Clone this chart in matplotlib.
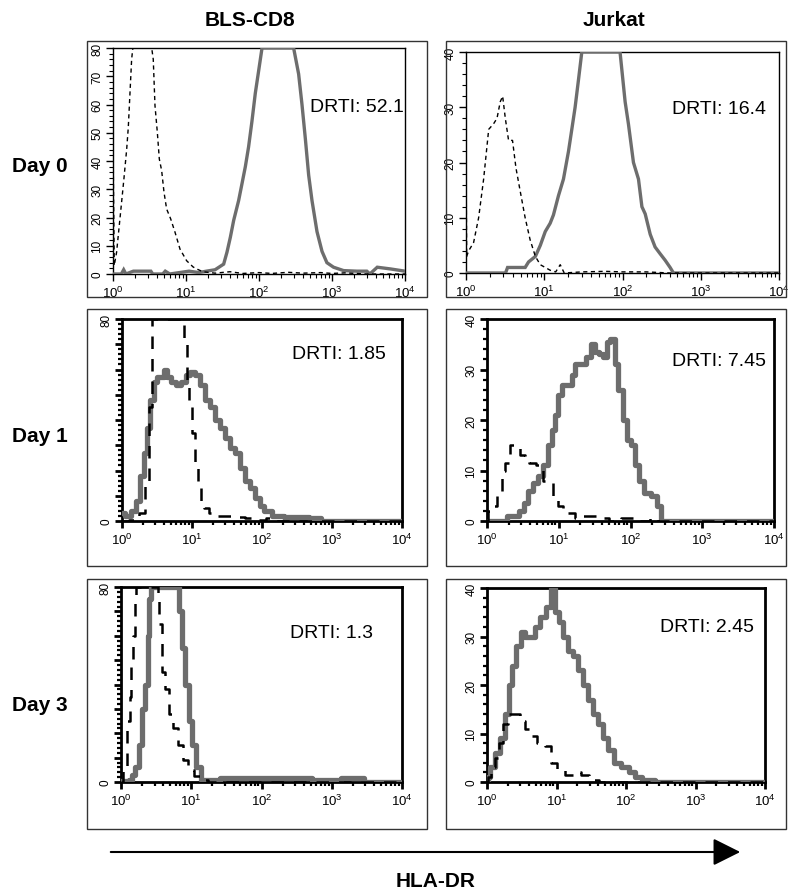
import matplotlib
matplotlib.use("Agg")
import matplotlib.pyplot as plt
from matplotlib.patches import Rectangle, FancyArrowPatch
from matplotlib.ticker import LogLocator, NullFormatter, FixedLocator, MultipleLocator, FixedFormatter

plt.rcParams['font.family'] = ['Liberation Sans', 'DejaVu Sans']
plt.rcParams['mathtext.default'] = 'regular'

# ---------------- data ----------------
col_titles = ["BLS-CD8", "Jurkat"]
row_titles = ["Day 0", "Day 1", "Day 3"]
drti_values = ["52.1", "16.4", "1.85", "7.45", "1.3", "2.45"]
x_axis_label = "HLA-DR"

# Day 0, BLS-CD8
d0_bls_iso_x = [1.0, 1.04, 1.12, 1.27, 1.41, 1.54, 1.62, 1.80, 1.87, 2.5, 3.39, 3.56, 3.76, 4.05, 4.31,
                4.64, 5.0, 5.43, 6.17, 7.07, 8.28, 10.2, 12.5, 14.0, 17, 25, 40, 60, 100, 150, 250, 400,
                700, 1000, 1500, 3000, 10000]
d0_bls_iso_y = [48, 3, 7.7, 21.8, 33.6, 44.2, 51.9, 76, 80, 80, 80, 76, 59.6, 50.1, 40.7,
                36.6, 28.9, 23, 19.5, 14.8, 8.8, 4.7, 2.5, 1.8, 0.8, 0.3, 0.8, 0.2, 0.5, 0.2, 0.6, 0.3,
                0.5, 0.2, 0.4, 0, 0]
d0_bls_dr_x = [1.0, 1.3, 1.4, 1.5, 1.9, 3.3, 3.5, 4.8, 5.2, 6, 11, 15, 19, 25, 32.8, 36.4, 40.5, 45,
               52.6, 58.5, 65, 72, 80, 89, 99, 110, 200, 298, 349, 388, 431, 479, 532, 623, 730, 852,
               1050, 1443, 2200, 3000, 3300, 4170, 6300, 10000]
d0_bls_dr_y = [0, 0, 1.5, 0, 1, 1, 0, 0, 1, 0, 1, 0.5, 1, 1.5, 3.5, 7.7, 13, 19,
               26, 32, 38, 45, 54, 64, 72, 80, 80, 80, 70.8, 60, 48, 35, 26, 15, 8, 4,
               2.4, 1.2, 1, 1, 0, 2.4, 1.8, 1]

# Day 0, Jurkat
d0_jur_iso_x = [1.0, 1.02, 1.08, 1.25, 1.45, 1.68, 1.95, 2.25, 2.49, 2.74, 2.94, 3.18, 3.5, 3.93, 4.35,
                4.9, 5.7, 6.6, 7.7, 8.9, 10.3, 11.9, 14, 16, 18, 30, 60, 100, 200, 400, 10000]
d0_jur_iso_y = [21, 3, 4, 5.5, 10, 17, 26, 27, 28, 31, 32, 28, 24, 24, 19,
                15, 10, 6, 3, 1.5, 1, 0.5, 0.2, 1.5, 0, 0.2, 0.3, 0.2, 0.2, 0, 0]
d0_jur_dr_x = [1.0, 3.2, 3.4, 5.7, 6.3, 7.7, 8.9, 10.3, 11.9, 13.1, 15.2, 17.6, 20.4, 22.5, 24.8, 27.4,
               30.2, 60, 93, 108, 119, 138, 160, 177, 195, 226, 261, 302, 351, 406, 448, 10000]
d0_jur_dr_y = [0, 0, 1, 1, 2, 3, 5, 7.5, 9, 10.5, 14, 17, 22, 26, 30, 35,
               40, 40, 40, 31, 27, 20, 17, 12, 10.7, 7, 4.7, 3.5, 2.3, 1, 0, 0]

# Day 1, BLS-CD8
d1_bls_iso_x = [1.0, 1.5, 2.0, 2.3, 2.6, 2.8, 5.0, 7.5, 8.0, 8.8, 9.5, 10.5, 11.5, 12.5, 14, 16, 19, 24,
                35, 45, 70, 90, 140, 200, 10000]
d1_bls_iso_y = [0, 0.5, 3, 15, 45, 80, 80, 80, 70, 55, 45, 35, 22, 14, 8, 5, 3, 2,
                2, 1.5, 1, 0.5, 1, 0, 0]
d1_bls_dr_x = [1.0, 1.18, 1.47, 1.73, 1.93, 2.15, 2.4, 2.68, 3.0, 3.34, 3.72, 4.16, 4.64, 5.46, 6.43,
               7.6, 8.96, 10, 11.8, 13.9, 16.4, 19.3, 22.7, 26.8, 31.6, 37.2, 43.9, 51.8, 61, 72, 85,
               100, 117, 163, 253, 680, 725, 10000]
d1_bls_dr_y = [3, 2, 4, 8, 18, 27, 37, 48, 55, 57, 57, 60, 57, 55, 54,
               55, 58, 59, 58, 54, 48, 45, 40, 37, 33, 29, 27, 21, 16, 13, 9,
               6, 4, 2, 1.5, 1, 0, 0]

# Day 1, Jurkat
d1_jur_iso_x = [1.0, 1.05, 1.24, 1.53, 1.7, 1.9, 2.23, 2.61, 3.07, 3.6, 4.22, 5.5, 6.46, 7.6, 8.9, 10.4,
                12.3, 15.2, 18.8, 23.3, 32, 44, 55, 93, 150, 218, 260, 10000]
d1_jur_iso_y = [0, 2, 3, 6, 10, 11.5, 15, 14.5, 13, 12, 11.5, 11, 8, 7.5, 5, 3,
                1.5, 1.5, 0.5, 1, 1, 0.5, 0, 0.5, 0, 0.5, 0, 0]
d1_jur_dr_x = [1.0, 1.8, 2.0, 2.6, 3.07, 3.4, 4.0, 4.7, 5.5, 6.46, 7.6, 8.4, 9.4, 10.4, 11.6, 14.4, 16,
               17.8, 22, 25.9, 30.4, 33.8, 39.8, 44, 49, 55.7, 64, 71, 84, 93, 109, 121, 142, 168, 218,
               256, 272, 10000]
d1_jur_dr_y = [0, 0, 1, 1, 2, 3.5, 6, 7.5, 9, 11, 15, 18, 21, 25, 27, 27, 29,
               31, 31, 32.5, 35, 33.5, 33, 32.5, 35.5, 36, 31, 26, 20, 16, 15, 11, 8, 5.5, 5,
               3, 0, 0]

# Day 3, BLS-CD8
d3_bls_iso_x = [1.0, 1.15, 1.29, 1.36, 1.43, 1.52, 1.6, 1.69, 3.26, 3.43, 3.6, 4.0, 4.5, 5.0, 5.9, 7.0,
                8.2, 9.7, 12.1, 15, 20, 10000]
d3_bls_iso_y = [0, 5, 25, 35, 50, 60, 75, 80, 80, 75, 65, 45, 38, 28, 22, 15,
                9, 5, 2.5, 1, 0, 0]
d3_bls_dr_x = [1.0, 1.2, 1.36, 1.51, 1.69, 1.88, 2.1, 2.3, 2.48, 2.6, 2.76, 6.6, 6.97, 7.8, 8.7, 9.7,
               10.8, 12.8, 15, 36, 55, 107, 953, 1740, 3940, 10000]
d3_bls_dr_y = [0.5, 0.5, 1, 3, 6, 15, 30, 40, 60, 75, 80, 80, 70, 55, 40, 25,
               15, 6, 1, 1.5, 1.5, 1.5, 1, 1.5, 0, 0]

# Day 3, Jurkat
d3_jur_iso_x = [1.0, 1.06, 1.25, 1.39, 1.55, 1.83, 2.17, 2.7, 3.18, 3.97, 4.68, 5.84, 7.7, 9.1, 11.3,
                14.9, 19.6, 25.8, 32.2, 50, 10000]
d3_jur_iso_y = [0, 1, 3, 5, 8, 12, 14, 14, 12.5, 11, 9.5, 8, 7.5, 4, 2.5,
                1.5, 2, 1.5, 0.5, 0, 0]
d3_jur_dr_x = [1.0, 1.06, 1.18, 1.39, 1.64, 1.94, 2.17, 2.42, 2.85, 3.37, 3.76, 4.43, 5.23, 6.5, 7.7,
               9.1, 10.1, 11.3, 13.3, 15.7, 18.6, 21.9, 25.8, 30.5, 36, 42.5, 50, 59, 73.7, 97, 121,
               151, 189, 248, 270, 10000]
d3_jur_dr_y = [0, 1, 3, 6, 9, 14, 20, 24, 28, 31, 30, 30, 32, 34, 36,
               40, 35, 33, 30, 27, 26, 23, 20, 17, 14, 12, 9, 6.5, 4, 3, 2,
               1, 0.5, 0.5, 0, 0]

panels = [
    (d0_bls_iso_x, d0_bls_iso_y, d0_bls_dr_x, d0_bls_dr_y),
    (d0_jur_iso_x, d0_jur_iso_y, d0_jur_dr_x, d0_jur_dr_y),
    (d1_bls_iso_x, d1_bls_iso_y, d1_bls_dr_x, d1_bls_dr_y),
    (d1_jur_iso_x, d1_jur_iso_y, d1_jur_dr_x, d1_jur_dr_y),
    (d3_bls_iso_x, d3_bls_iso_y, d3_bls_dr_x, d3_bls_dr_y),
    (d3_jur_iso_x, d3_jur_iso_y, d3_jur_dr_x, d3_jur_dr_y),
]
y_max = [80, 40, 80, 40, 80, 40]

# ---------------- layout ----------------
W, H = 800, 895
fig = plt.figure(figsize=(W / 100, H / 100), dpi=100)
fig.patch.set_facecolor("white")

def frac(l, t, r, b):
    return [l / W, 1 - b / H, (r - l) / W, (b - t) / H]

axes_px = [(113, 49, 405, 275), (466, 53, 779, 274),
           (122, 320, 402, 522), (487, 320, 774, 522),
           (121, 588, 402, 783), (487, 589, 765, 783)]
box_cols = [(87, 427), (446, 786)]
box_rows = [(42, 298), (310, 567), (580, 830)]
drti_px = [(310, 108), (672, 110), (292, 355), (672, 362), (290, 634), (660, 628)]
gray = "#6d6d6d"

for r, (t, b) in enumerate(box_rows):
    for c, (l, rr) in enumerate(box_cols):
        fig.add_artist(Rectangle((l / W, 1 - b / H), (rr - l) / W, (b - t) / H,
                                 transform=fig.transFigure, fill=False,
                                 edgecolor="#333333", lw=1.0))

for i, (ix, iy, dx, dy) in enumerate(panels):
    thin = i < 2
    ax = fig.add_axes(frac(*axes_px[i]))
    if thin:
        ax.plot(dx, dy, color=gray, lw=2.4, solid_joinstyle="miter", zorder=3)
        ax.plot(ix, iy, color="black", lw=1.0, linestyle=(0, (3, 2.5)), zorder=4)
    else:
        ax.plot(dx, dy, color=gray, lw=3.8, drawstyle="steps-mid", zorder=3)
        ax.plot(ix, iy, color="black", lw=1.8, linestyle=(0, (5, 4)), drawstyle="steps-mid", zorder=4)
    ax.set_xscale("log")
    ax.set_xlim(1, 1e4)
    ax.set_ylim(0, y_max[i])
    frame_lw = 1.0 if thin else 2.0
    for s in ax.spines.values():
        s.set_linewidth(frame_lw)
    ax.xaxis.set_major_locator(FixedLocator([1, 10, 100, 1000, 10000]))
    ax.xaxis.set_major_formatter(FixedFormatter([r"$10^0$", r"$10^1$", r"$10^2$", r"$10^3$", r"$10^4$"]))
    ax.xaxis.set_minor_locator(LogLocator(base=10, subs=range(2, 10), numticks=20))
    ax.xaxis.set_minor_formatter(NullFormatter())
    ym = y_max[i]
    majors = list(range(0, ym + 1, 10))
    ax.yaxis.set_major_locator(FixedLocator(majors))
    if ym == 80 and not thin:
        labels = [str(v) if v in (0, 80) else "" for v in majors]
    else:
        labels = [str(v) for v in majors]
    ax.yaxis.set_major_formatter(FixedFormatter(labels))
    ax.yaxis.set_minor_locator(MultipleLocator(2))
    tw = 1.0 if thin else 2.0
    ax.tick_params(axis="both", which="major", direction="out", length=5, width=tw,
                   top=False, right=False)
    ax.tick_params(axis="both", which="minor", direction="out", length=3, width=tw * 0.8,
                   top=False, right=False)
    ax.tick_params(axis="x", pad=3, labelsize=9.5)
    ax.tick_params(axis="y", pad=2, labelsize=8.5)
    for lab in ax.get_yticklabels():
        lab.set_rotation(90)
        lab.set_va("center")
    px, py = drti_px[i]
    fig.text(px / W, 1 - py / H, "DRTI: " + drti_values[i], fontsize=14,
             ha="left", va="center")

for c, xc in enumerate([250, 614]):
    fig.text(xc / W, 1 - 20 / H, col_titles[c], fontsize=15, weight="bold",
             ha="center", va="center")
for r, yc in enumerate([166, 437, 706]):
    fig.text(40 / W, 1 - yc / H, row_titles[r], fontsize=15, weight="bold",
             ha="center", va="center")

arrow = FancyArrowPatch((108 / W, 1 - 853 / H), (743 / W, 1 - 853 / H),
                        transform=fig.transFigure, arrowstyle="-|>,head_length=1.2,head_width=0.6",
                        mutation_scale=14, color="black", lw=1.5)
fig.add_artist(arrow)
fig.text(436 / W, 1 - 882 / H, x_axis_label, fontsize=15, weight="bold",
         ha="center", va="center")

fig.savefig("out.png", dpi=100, facecolor="white")
